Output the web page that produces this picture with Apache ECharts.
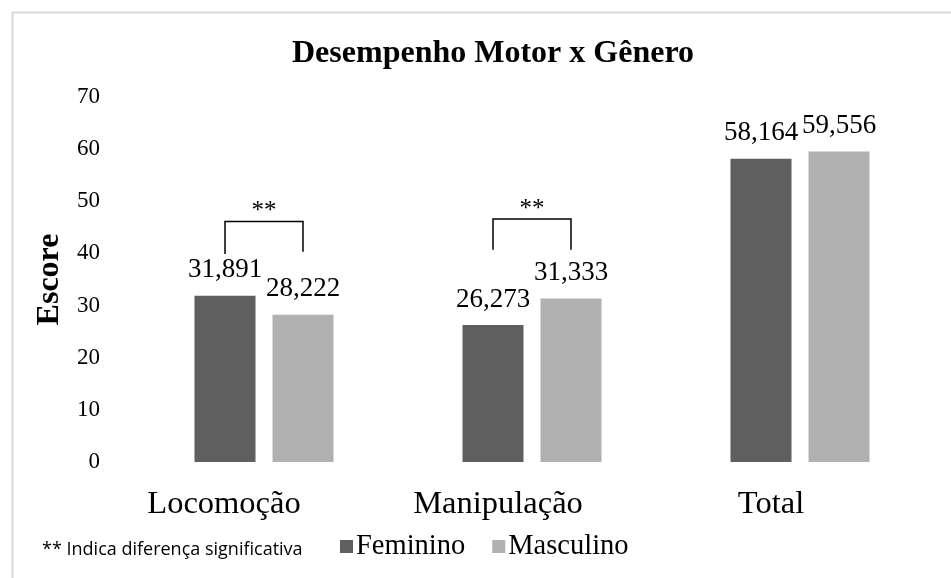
<!DOCTYPE html>
<html>
<head>
<meta charset="utf-8">
<script src="https://cdn.jsdelivr.net/npm/echarts@6/dist/echarts.min.js"></script>
<style>html,body{margin:0;padding:0;background:#fff}#c{width:951px;height:578px}</style>
</head>
<body>
<div id="c"></div>
<script>
const categories = ['Locomoção', 'Manipulação', 'Total'];
const feminino = [31.891, 26.273, 58.164];
const masculino = [28.222, 31.333, 59.556];
const yMin = 0, yMax = 70, yStep = 10;
// significance brackets: [category index, top value, left leg bottom, right leg bottom]
const brackets = [[0, 46.1, 39.9, 40.3], [1, 46.6, 40.7, 40.7]];
const bracketText = '**';
const footnote = '** Indica diferença significativa';
const titleText = 'Desempenho Motor x Gênero';
const yName = 'Escore';

const SERIF = '"Liberation Serif", "Times New Roman", serif';
const BAR_W = 61, BAR_GAP = 17;
const labelShift = [80, 68, 58];

const chart = echarts.init(document.getElementById('c'), null, {renderer: 'canvas'});
const fmt = v => v.toFixed(3).replace('.', ',');
const rich = {};
categories.forEach((c, i) => {
  rich['l' + i] = {fontFamily: SERIF, fontSize: 32.5, color: '#000', padding: [0, labelShift[i], 0, 0]};
});

chart.setOption({
  animation: false,
  backgroundColor: '#fff',
  title: {
    text: titleText, left: 488, textAlign: 'center', top: 33,
    textStyle: {fontFamily: SERIF, fontWeight: 'bold', fontSize: 32, color: '#000'}
  },
  graphic: [
    {type: 'rect', left: 10, top: 10, shape: {width: 1000, height: 1000},
     style: {fill: 'none', stroke: '#d9d9d9', lineWidth: 2}, silent: true},
    {type: 'text', left: 42, top: 541,
     style: {text: footnote, font: '18px "Open Sans", sans-serif', fill: '#000'}}
  ],
  legend: {
    left: 340, top: 532, padding: 0, icon: 'rect', itemWidth: 13, itemHeight: 13, itemGap: 27,
    textStyle: {fontFamily: SERIF, fontSize: 28.5, color: '#000', padding: [0, 0, 0, -2]},
    data: ['Feminino', 'Masculino']
  },
  grid: {left: 130, right: 17, top: 97, bottom: 116, containLabel: false},
  xAxis: {
    type: 'category', data: categories,
    axisLine: {show: false}, axisTick: {show: false},
    axisLabel: {
      margin: 26, interval: 0,
      formatter: (v, i) => '{l' + i + '|' + v + '}',
      rich: rich
    }
  },
  yAxis: {
    type: 'value', min: yMin, max: yMax, interval: yStep,
    name: yName, nameLocation: 'middle', nameGap: 63, nameRotate: 90,
    nameTextStyle: {fontFamily: SERIF, fontWeight: 'bold', fontSize: 32, color: '#000'},
    axisLine: {show: false}, axisTick: {show: false}, splitLine: {show: false},
    axisLabel: {fontFamily: SERIF, fontSize: 23, color: '#000', margin: 30}
  },
  series: [
    {name: 'Feminino', type: 'bar', data: feminino, barWidth: BAR_W, barGap: (BAR_GAP / BAR_W * 100) + '%',
     itemStyle: {color: '#5f5f5f'},
     label: {show: true, position: 'top', distance: 12, formatter: p => fmt(p.value),
             fontFamily: SERIF, fontSize: 27, color: '#000'}},
    {name: 'Masculino', type: 'bar', data: masculino, barWidth: BAR_W,
     itemStyle: {color: '#b1b1b1'},
     label: {show: true, position: 'top', distance: 12, formatter: p => fmt(p.value),
             fontFamily: SERIF, fontSize: 27, color: '#000'}},
    {type: 'custom', data: brackets, silent: true, z: 5,
     renderItem: (params, api) => {
       const idx = api.value(0);
       const off = BAR_W / 2 + BAR_GAP / 2;
       const top = api.coord([idx, api.value(1)]);
       const lb = api.coord([idx, api.value(2)]);
       const rb = api.coord([idx, api.value(3)]);
       const xl = top[0] - off, xr = top[0] + off;
       return {type: 'group', children: [
         {type: 'polyline', shape: {points: [[xl, lb[1]], [xl, top[1]], [xr, top[1]], [xr, rb[1]]]},
          style: {stroke: '#000', lineWidth: 1.5, fill: null}},
         {type: 'text', style: {text: bracketText, x: top[0], y: top[1] - 10, align: 'center',
          verticalAlign: 'middle', font: '25px "Liberation Serif", serif', fill: '#000'}}
       ]};
     }}
  ]
});
</script>
</body>
</html>
